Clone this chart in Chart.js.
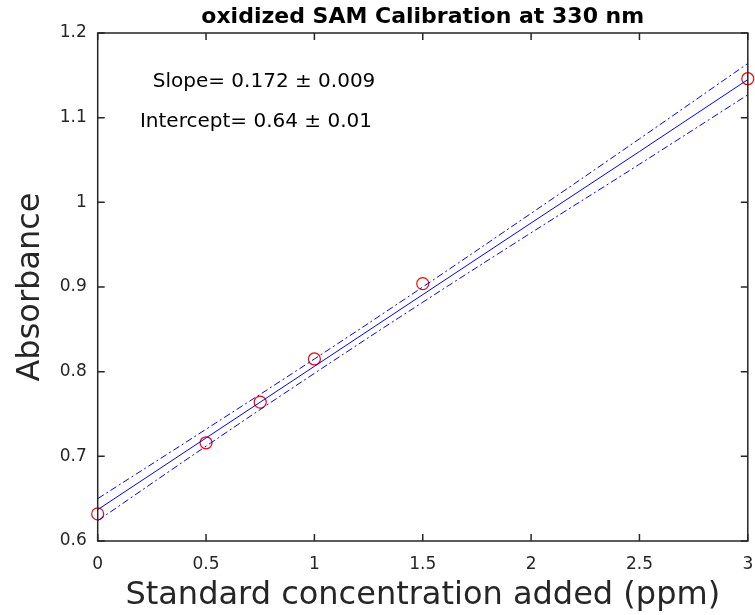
<!DOCTYPE html>
<html>
<head>
<meta charset="utf-8">
<script src="https://cdn.jsdelivr.net/npm/chart.js@4.4.1/dist/chart.umd.min.js"></script>
<style>
    html, body { margin: 0; padding: 0; background: #fff; }
    canvas { display: block; }
</style>
</head>
<body>
<canvas id="chart" width="755" height="615"></canvas>
<script>
// measured standards
const concentration = [0, 0.5, 0.75, 1, 1.5, 3];
const absorbance    = [0.632, 0.716, 0.764, 0.815, 0.904, 1.146];

// fitted line and confidence band
const fitX      = [0, 0.5, 1, 1.5, 2, 2.5, 3];
const fitY      = [0.637, 0.7217, 0.8063, 0.891, 0.9756, 1.060, 1.145];
const bandUpper = [0.650, 0.732, 0.815, 0.900, 0.987, 1.075, 1.164];
const bandLower = [0.624, 0.712, 0.798, 0.882, 0.964, 1.045, 1.127];

const xTicks = [0, 0.5, 1, 1.5, 2, 2.5, 3];
const yTicks = [0.6, 0.7, 0.8, 0.9, 1, 1.1, 1.2];

const chartTitle  = 'oxidized SAM Calibration at 330 nm';
const annotations = ['Slope= 0.172 \u00B1 0.009', 'Intercept= 0.64 \u00B1 0.01'];

const axisColor = '#262626';
const font = 'DejaVu Sans';
const toPoints = (xs, ys) => xs.map((x, i) => ({ x: x, y: ys[i] }));

// MATLAB-like box with inward ticks, title over the axes, text annotations
const boxPlugin = {
    id: 'box',
    afterDatasetsDraw(chart) {
        const { ctx, chartArea: a, scales } = chart;
        ctx.save();
        ctx.strokeStyle = axisColor;
        ctx.lineWidth = 1.5;
        ctx.strokeRect(a.left, a.top, a.right - a.left, a.bottom - a.top);
        ctx.beginPath();
        const len = 7;
        scales.x.ticks.forEach(t => {
            const px = scales.x.getPixelForValue(t.value);
            ctx.moveTo(px, a.bottom); ctx.lineTo(px, a.bottom - len);
            ctx.moveTo(px, a.top);    ctx.lineTo(px, a.top + len);
        });
        scales.y.ticks.forEach(t => {
            const py = scales.y.getPixelForValue(t.value);
            ctx.moveTo(a.left, py);  ctx.lineTo(a.left + len, py);
            ctx.moveTo(a.right, py); ctx.lineTo(a.right - len, py);
        });
        ctx.stroke();

        ctx.fillStyle = '#000';
        ctx.textBaseline = 'middle';
        ctx.textAlign = 'center';
        ctx.font = 'bold 22px "' + font + '"';
        ctx.fillText(chartTitle, (a.left + a.right) / 2, a.top - 16);

        ctx.font = '20px "' + font + '"';
        ctx.textAlign = 'left';
        ctx.fillText(annotations[0], scales.x.getPixelForValue(0.254), scales.y.getPixelForValue(1.142));
        ctx.fillText(annotations[1], scales.x.getPixelForValue(0.195), scales.y.getPixelForValue(1.095));
        ctx.restore();
    }
};

const bandStyle = {
    borderColor: '#0000ff',
    borderWidth: 1,
    borderDash: [7, 3, 2, 3],
    pointRadius: 0,
    fill: false,
    tension: 0.4,
    showLine: true
};

new Chart(document.getElementById('chart'), {
    type: 'scatter',
    data: {
        datasets: [
            Object.assign({ data: toPoints(fitX, bandUpper) }, bandStyle),
            Object.assign({ data: toPoints(fitX, bandLower) }, bandStyle),
            {
                data: toPoints(fitX, fitY),
                borderColor: '#0000ff',
                borderWidth: 1,
                pointRadius: 0,
                showLine: true,
                fill: false
            },
            {
                data: toPoints(concentration, absorbance),
                borderColor: '#ff0000',
                backgroundColor: 'rgba(0,0,0,0)',
                borderWidth: 1.2,
                pointRadius: 6,
                showLine: false,
                clip: false
            }
        ]
    },
    options: {
        responsive: false,
        devicePixelRatio: 1,
        animation: false,
        layout: { padding: { left: 0, right: 4, top: 33, bottom: 0 } },
        plugins: {
            legend: { display: false },
            tooltip: { enabled: false },
            title: { display: false }
        },
        scales: {
            x: {
                type: 'linear',
                min: 0,
                max: 3,
                afterBuildTicks: s => { s.ticks = xTicks.map(v => ({ value: v })); },
                afterFit: s => { s.height = 74; s.paddingLeft = 0; s.paddingRight = 0; },
                grid: { display: false, drawTicks: false },
                border: { display: false },
                ticks: {
                    color: axisColor,
                    padding: 13,
                    maxRotation: 0,
                    font: { family: font, size: 17 },
                    callback: v => String(+v.toFixed(2))
                },
                title: {
                    display: true,
                    text: 'Standard concentration added (ppm)',
                    color: axisColor,
                    font: { family: font, size: 32 },
                    padding: { top: 0, bottom: 0 }
                }
            },
            y: {
                type: 'linear',
                min: 0.6,
                max: 1.2,
                afterBuildTicks: s => { s.ticks = yTicks.map(v => ({ value: v })); },
                afterFit: s => { s.width = 97.7; s.paddingTop = 0; s.paddingBottom = 0; },
                grid: { display: false, drawTicks: false },
                border: { display: false },
                ticks: {
                    color: axisColor,
                    padding: 11,
                    font: { family: font, size: 17 },
                    callback: v => String(+v.toFixed(2))
                },
                title: {
                    display: true,
                    text: 'Absorbance',
                    color: axisColor,
                    font: { family: font, size: 32 },
                    padding: { top: 11, bottom: 0 }
                }
            }
        }
    },
    plugins: [boxPlugin]
});
</script>
</body>
</html>
